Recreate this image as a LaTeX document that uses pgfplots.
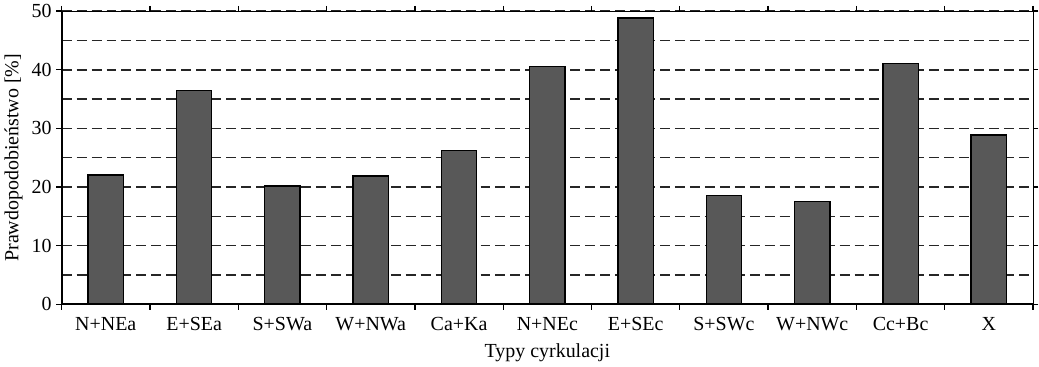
\documentclass[border=0pt]{standalone}
\usepackage{pgfplots}
\pgfplotsset{compat=1.18}
\usepackage{fontspec}
\setmainfont{Liberation Serif}
\definecolor{barfill}{RGB}{88,88,88}
\begin{document}
\begin{tikzpicture}
\begin{axis}[
  scale only axis,
  width=730.5pt, height=220.5pt,
  xmin=-0.5, xmax=10.5,
  ymin=0, ymax=50,
  xtick={0,...,10},
  xticklabels={N+NEa,E+SEa,S+SWa,W+NWa,Ca+Ka,N+NEc,E+SEc,S+SWc,W+NWc,Cc+Bc,X},
  major x tick style={draw=none},
  minor xtick={-0.5,0.5,...,10.5},
  minor x tick style={black, line width=1pt},
  ytick={0,10,...,50},
  minor ytick={5,15,...,45},
  minor y tick style={draw=none},
  major y tick style={black, line width=1pt},
  tick align=outside,
  major tick length=4pt,
  minor tick length=4pt,
  ymajorgrids, yminorgrids,
  major grid style={black!85, line width=1.1pt, dash pattern=on 7.5pt off 3.75pt},
  minor grid style={black!85, line width=1.1pt, dash pattern=on 7.5pt off 3.75pt},
  axis line style={black, line width=0.6pt},
  /pgf/number format/assume math mode=true,
  tick label style={font=\fontsize{15}{17}\selectfont, black},
  label style={font=\fontsize{15}{17}\selectfont, black},
  xticklabel style={yshift=-2pt},
  xlabel={Typy cyrkulacji},
  ylabel={Prawdopodobieństwo [\%]},
  xlabel style={yshift=-3pt},
  ylabel style={yshift=0pt},
]
\addplot[ybar, bar width=0.4, fill=barfill, draw=black, line width=1.1pt]
  coordinates {(0,22.1) (1,36.5) (2,20.2) (3,21.9) (4,26.2) (5,40.6) (6,48.8) (7,18.6) (8,17.5) (9,41.1) (10,28.9)};
\draw[black, line width=1.4pt] (rel axis cs:0,1) -- (rel axis cs:0,0) -- (rel axis cs:1,0);
\end{axis}
\end{tikzpicture}
\end{document}
